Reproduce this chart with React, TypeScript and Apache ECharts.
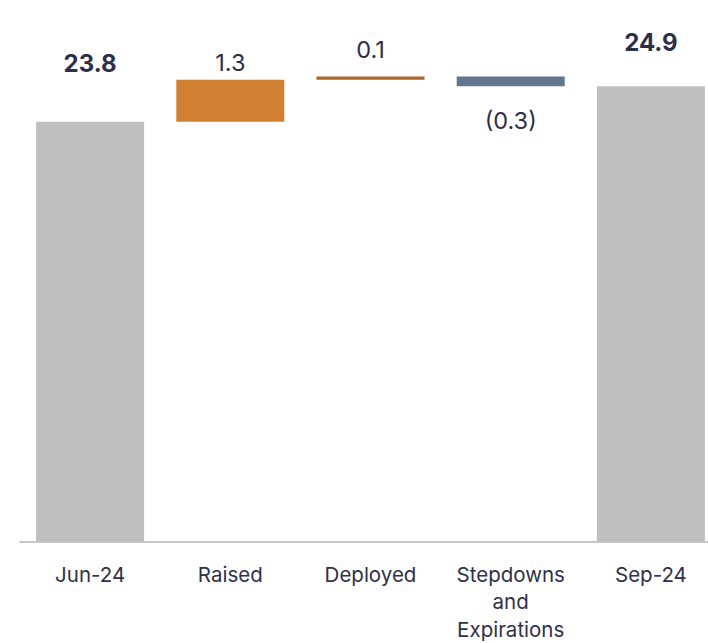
import React, { useEffect, useRef } from "react";
import * as echarts from "echarts";

const categories = ["Jun-24", "Raised", "Deployed", "Stepdowns and Expirations", "Sep-24"];
const values = [23.8, 1.3, 0.1, -0.3, 24.9];
const isTotal = [true, false, false, false, true];
const barColors = ["#BFBFBF", "#D17F31", "#A8662A", "#62778F", "#BFBFBF"];
const labelOffsets = [-58, -17.5, -27, 44, -43.5];

export default function App() {
  const ref = useRef<HTMLDivElement>(null);
  useEffect(() => {
    if (!ref.current) return;
    const chart = echarts.init(ref.current, null, { renderer: "svg" });

    const bases: number[] = [];
    const heights: number[] = [];
    let running = 0;
    values.forEach((v, i) => {
      if (isTotal[i]) {
        bases.push(0);
        heights.push(v);
        running = v;
      } else if (v >= 0) {
        bases.push(running);
        heights.push(v);
        running += v;
      } else {
        running += v;
        bases.push(running);
        heights.push(-v);
      }
    });

    const fmt = (v: number) => (v < 0 ? `(${Math.abs(v).toFixed(1)})` : v.toFixed(1));

    chart.setOption({
      animation: false,
      grid: { left: 20, right: 0, top: 50.7, bottom: 99 },
      xAxis: {
        type: "category",
        data: categories,
        axisLine: { onZero: false, lineStyle: { color: "#C8C8C8", width: 2 } },
        axisTick: { show: false },
        axisLabel: {
          interval: 0,
          margin: 19,
          color: "#30304A",
          fontFamily: "Inter",
          fontSize: 20.5,
          lineHeight: 27.5,
          formatter: (s: string) => s.split(" ").join("\n"),
        },
      },
      yAxis: {
        type: "value",
        min: 10.8,
        max: 26,
        show: false,
        splitLine: { show: false },
      },
      series: [
        {
          type: "bar",
          stack: "w",
          barWidth: 108,
          silent: true,
          itemStyle: { color: "transparent" },
          data: bases,
        },
        {
          type: "bar",
          stack: "w",
          barWidth: 108,
          data: heights.map((h, i) => ({
            value: h,
            itemStyle: { color: barColors[i] },
            label: {
              show: true,
              position: ["50%", labelOffsets[i]],
              align: "center",
              verticalAlign: "middle",
              formatter: () => fmt(values[i]),
              color: "#2E2E48",
              fontFamily: "Inter",
              fontSize: isTotal[i] ? 24 : 23.5,
              fontWeight: isTotal[i] ? "bold" : "normal",
            },
          })),
        },
      ],
    });
    return () => chart.dispose();
  }, []);
  return (
    <div style={{ position: "absolute", left: 0, top: 0, width: 708, height: 643, overflow: "hidden" }}>
      <div ref={ref} style={{ width: 721, height: 643 }} />
    </div>
  );
}
